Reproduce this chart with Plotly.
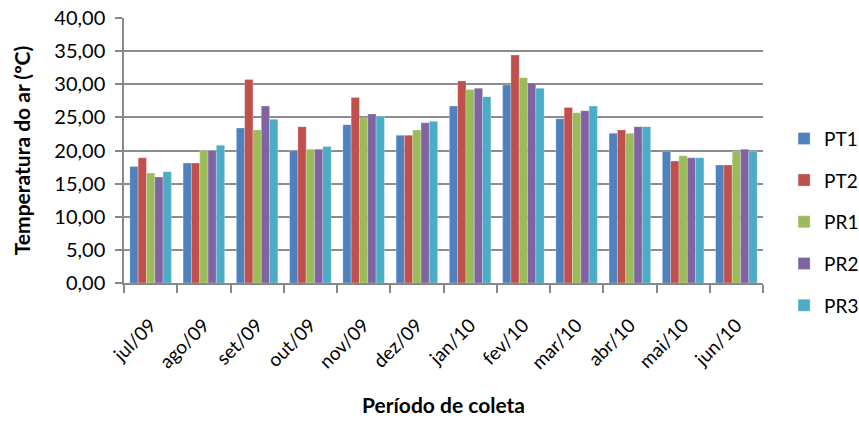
import plotly.graph_objects as go

months = ["jul/09", "ago/09", "set/09", "out/09", "nov/09", "dez/09",
          "jan/10", "fev/10", "mar/10", "abr/10", "mai/10", "jun/10"]

pt1 = [17.6, 18.1, 23.4, 20.0, 23.9, 22.3, 26.7, 29.9, 24.8, 22.6, 19.9, 17.8]
pt2 = [18.9, 18.1, 30.7, 23.6, 28.0, 22.3, 30.5, 34.4, 26.5, 23.1, 18.4, 17.8]
pr1 = [16.6, 20.0, 23.1, 20.2, 24.9, 23.1, 29.2, 31.0, 25.7, 22.6, 19.2, 19.9]
pr2 = [16.0, 20.0, 26.7, 20.2, 25.5, 24.2, 29.4, 30.2, 26.0, 23.6, 18.9, 20.2]
pr3 = [16.8, 20.8, 24.7, 20.6, 25.2, 24.4, 28.1, 29.4, 26.7, 23.6, 18.9, 19.9]

series = [
    ("PT1", pt1, "#4F81BD"),
    ("PT2", pt2, "#C0504D"),
    ("PR1", pr1, "#9BBB59"),
    ("PR2", pr2, "#8064A2"),
    ("PR3", pr3, "#4BACC6"),
]

FONT = "Lato, 'Open Sans', sans-serif"

fig = go.Figure()
for name, vals, color in series:
    fig.add_trace(go.Bar(
        x=months, y=vals, name=name, legendgroup=name,
        marker=dict(color=color, line=dict(color="rgba(255,255,255,0.5)", width=0.5)),
    ))

fig.update_layout(
    width=859, height=421,
    margin=dict(l=124, r=96, t=18, b=138, autoexpand=False),
    paper_bgcolor="white", plot_bgcolor="white",
    barmode="group", bargap=0.22, bargroupgap=0,
    separators=",.",
    font=dict(family=FONT, size=20, color="#000000"),
    legend=dict(
        x=1.033, xanchor="left", xref="paper", y=0.23, yanchor="middle",
        font=dict(size=19), tracegroupgap=14, itemwidth=30,
        bgcolor="rgba(0,0,0,0)",
    ),
    xaxis=dict(
        type="category", tickangle=-45, tickson="boundaries",
        ticks="outside", ticklen=8, tickcolor="#888888", tickwidth=1.5,
        showline=True, linecolor="#888888", linewidth=1.5,
        showgrid=False, tickfont=dict(size=19), ticklabelstandoff=22,
        title=dict(text="<b>Período de coleta</b>", font=dict(size=21), standoff=26),
    ),
    yaxis=dict(
        range=[0, 40], dtick=5, tickformat=".2f",
        ticks="outside", ticklen=7, tickcolor="#888888", tickwidth=1.5,
        showline=True, linecolor="#888888", linewidth=1.5,
        showgrid=True, gridcolor="#8c8c8c", gridwidth=1.5,
        zeroline=False, tickfont=dict(size=20), ticklabelstandoff=6,
        title=dict(text="<b>Temperatura do ar (ºC)</b>", font=dict(size=21), standoff=18),
    ),
)

fig.write_html("out.html")
